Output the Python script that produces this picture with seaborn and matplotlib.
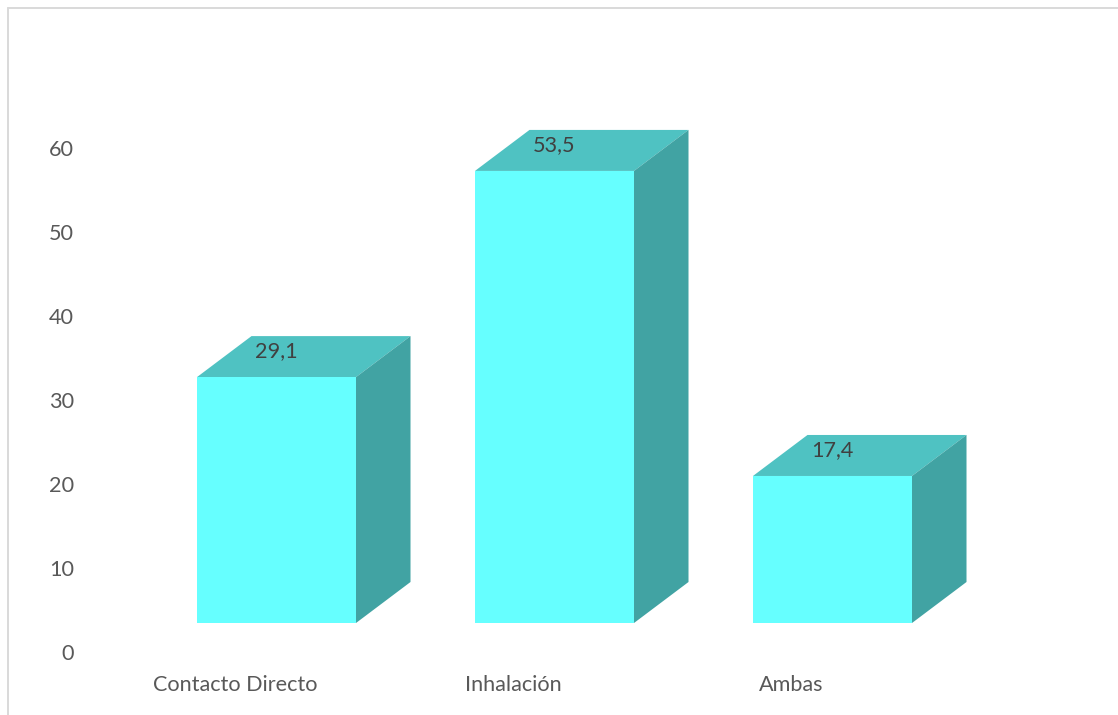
import matplotlib
matplotlib.use("Agg")
import matplotlib.pyplot as plt
from matplotlib.lines import Line2D
from matplotlib.patches import Polygon
import seaborn as sns
import pandas as pd

categories = ["Contacto Directo", "Inhalación", "Ambas"]
values = [29.1, 53.5, 17.4]
value_labels = ["29,1", "53,5", "17,4"]
y_ticks = [0, 10, 20, 30, 40, 50, 60]

W, H = 1118, 715
FRONT, TOP, SIDE = "#66FFFF", "#4FC2C2", "#41A3A3"
TEXT, LABEL = "#595959", "#404040"
FS = 15.6

sns.set_theme(style="white")
plt.rcParams["font.family"] = ["Lato", "DejaVu Sans"]

fig = plt.figure(figsize=(W / 100, H / 100), dpi=100, facecolor="white")


def box(left, top, right, bottom):
    return [left / W, 1 - bottom / H, (right - left) / W, (bottom - top) / H]


# Floor axis: carries tick labels, offset from the bars as in the 3D view
ax_t = fig.add_axes(box(96, 147.5, 930, 652.5))
ax_t.set_xlim(-0.5, 2.5)
ax_t.set_ylim(0, 60)
ax_t.set_yticks(y_ticks)
ax_t.set_xticks(range(len(categories)))
ax_t.set_xticklabels(categories)
ax_t.tick_params(axis="y", length=0, pad=16, labelsize=FS, labelcolor=TEXT)
ax_t.tick_params(axis="x", length=0, pad=16, labelsize=FS, labelcolor=TEXT)
sns.despine(ax=ax_t, left=True, bottom=True)
ax_t.patch.set_alpha(0)

# Bar axis
ax = fig.add_axes(box(137.5, 116, 971.5, 623))
df = pd.DataFrame({"cat": categories, "val": values})
sns.barplot(data=df, x="cat", y="val", color=FRONT, saturation=1, width=0.572,
            linewidth=0, edgecolor="none", ax=ax, zorder=3)
ax.set_xlim(-0.5, 2.5)
ax.set_ylim(0, 60)
ax.axis("off")

dx = 54.5 / (834 / 3)
dy = 41 / (507 / 60)
for p, lab in zip(list(ax.patches), value_labels):
    x0, x1, h = p.get_x(), p.get_x() + p.get_width(), p.get_height()
    ax.add_patch(Polygon([(x0, h), (x0 + dx, h + dy), (x1 + dx, h + dy), (x1, h)],
                         facecolor=TOP, edgecolor="none", clip_on=False, zorder=2))
    ax.add_patch(Polygon([(x1, 0), (x1 + dx, dy), (x1 + dx, h + dy), (x1, h)],
                         facecolor=SIDE, edgecolor="none", clip_on=False, zorder=2))
    ax.annotate(lab, xy=((x0 + x1) / 2, h), xytext=(0, 26), textcoords="offset pixels",
                ha="center", va="center", fontsize=FS, color=LABEL, zorder=5, annotation_clip=False)

# Outer frame, open on the right and at the bottom
for xs, ys in [((8 / W, 8 / W), (0, 1 - 8 / H)), ((8 / W, 1), (1 - 8 / H, 1 - 8 / H))]:
    fig.add_artist(Line2D(xs, ys, color="#D9D9D9", lw=1.4, transform=fig.transFigure))

fig.savefig("out.png", dpi=100, facecolor="white")
